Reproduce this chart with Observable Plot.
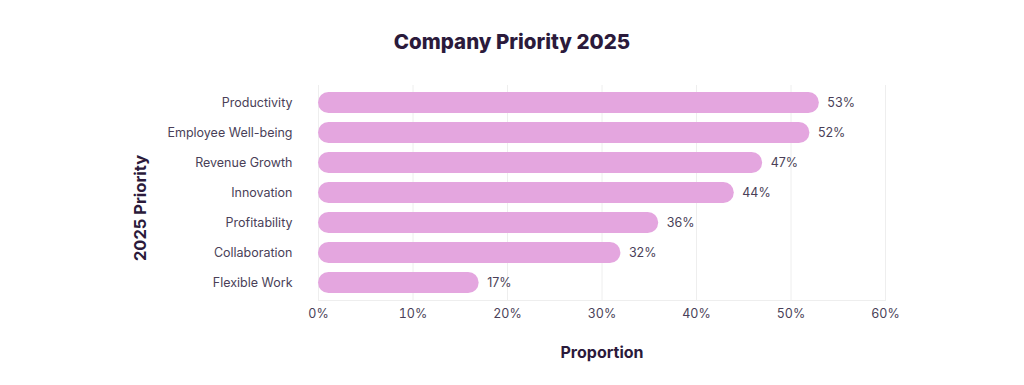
<!DOCTYPE html>
<html>
<head>
<meta charset="utf-8">
<script src="https://cdn.jsdelivr.net/npm/d3@7"></script>
<script src="https://cdn.jsdelivr.net/npm/@observablehq/plot@0.6"></script>
<style>
  html, body { margin: 0; padding: 0; background: #ffffff; }
  #title { height: 70px; box-sizing: border-box; padding-top: 29px; text-align: center;
    font-family: Inter, "Noto Sans", sans-serif; font-weight: 800; font-size: 20.5px; line-height: 26px; color: #2b1a3b; }
  #chart svg { display: block; }
</style>
</head>
<body>
<div id="title">Company Priority 2025</div>
<div id="chart"></div>
<script>
const categories = ["Productivity", "Employee Well-being", "Revenue Growth", "Innovation", "Profitability", "Collaboration", "Flexible Work"];
const values = [53, 52, 47, 44, 36, 32, 17];
const xTicks = [0, 10, 20, 30, 40, 50, 60];

const data = categories.map((c, i) => ({category: c, value: values[i]}));

const textColor = "#4a3f58";
const chart = Plot.plot({
  width: 1024,
  height: 315,
  marginLeft: 318,
  marginRight: 139,
  marginTop: 15,
  marginBottom: 85,
  style: {fontFamily: "Inter, 'Noto Sans', sans-serif", fontSize: "12.5px", color: textColor, background: "#ffffff"},
  x: {domain: [0, 60], ticks: xTicks, tickFormat: d => d + "%", label: null, tickSize: 0, tickPadding: 9},
  y: {domain: categories, paddingInner: 0.3, paddingOuter: 0.15, label: null, tickSize: 0, tickPadding: 26},
  marks: [
    Plot.gridX(xTicks, {stroke: "#eeeeee", strokeOpacity: 1}),
    Plot.frame({anchor: "bottom", stroke: "#eeeeee"}),
    Plot.barX(data, {x: "value", y: "category", fill: "#e4a6df", rx: 10.5}),
    Plot.text(data, {x: "value", y: "category", text: d => d.value + "%", textAnchor: "start", dx: 8, fill: textColor, fontSize: 12.5}),
    Plot.text(["Proportion"], {frameAnchor: "bottom", dy: 52, lineAnchor: "middle", fontSize: 16, fontWeight: 700, fill: "#2b1a3b"}),
    Plot.text(["2025 Priority"], {frameAnchor: "left", dx: -178, dy: 15, rotate: -90, textAnchor: "middle", lineAnchor: "middle", fontSize: 16.5, fontWeight: 700, fill: "#2b1a3b"})
  ]
});
document.getElementById("chart").appendChild(chart);
</script>
</body>
</html>
